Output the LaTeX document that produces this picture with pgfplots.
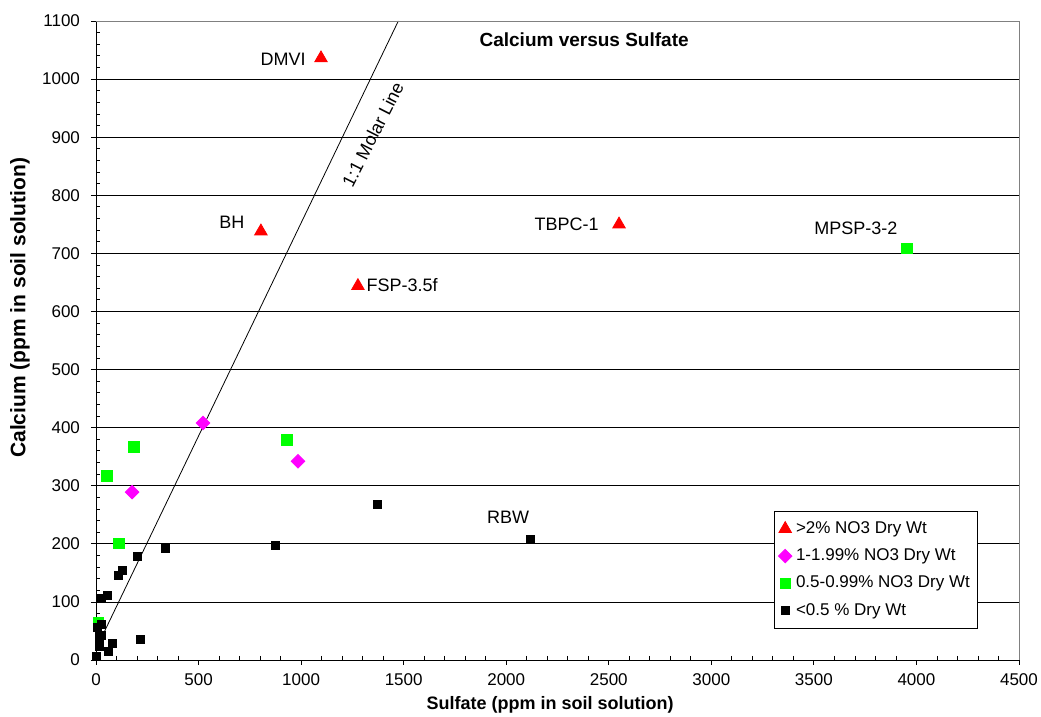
\documentclass[border=0pt]{standalone}
\usepackage{fontspec}
\setmainfont{Liberation Sans}
\usepackage{pgfplots}
\pgfplotsset{compat=1.18}
\definecolor{tri}{HTML}{FF0000}
\definecolor{dia}{HTML}{FF00FF}
\definecolor{grn}{HTML}{00FF00}

\begin{document}
\begin{tikzpicture}
\begin{axis}[
  scale only axis, width=461.5pt, height=319.5pt,
  xmin=0, xmax=4500, ymin=0, ymax=1100,
  xtick distance=500, ytick distance=100,
  minor x tick num=4, minor y tick num=4,
  axis lines*=left, axis line style={black,-},
  tick align=outside, major tick length=2.5pt, minor tick length=-2pt,
  tick style={black, thin},
  ymajorgrids, major grid style={black, thin},
  /pgf/number format/assume math mode=true,
  /pgf/number format/set thousands separator={},
  tick label style={font=\fontsize{8.5}{10}\selectfont},
  xticklabel style={yshift=-1pt},
  yticklabel style={xshift=-2pt},
  xlabel={\textbf{Sulfate (ppm in soil solution)}},
  ylabel={\textbf{Calcium (ppm in soil solution)}},
  xlabel style={at={(axis description cs:0.492,-0.0704)}, anchor=center,
    font=\fontsize{9}{11}\selectfont},
  ylabel style={at={(axis description cs:-0.0823,0.551)}, anchor=center,
    font=\fontsize{10.5}{12}\selectfont},
  legend style={at={(rel axis cs:0.7346,0.2332)}, anchor=north west,
    draw=black, fill=white, font=\fontsize{8.5}{10}\selectfont,
    row sep=2.2pt, inner xsep=2pt, inner ysep=3pt},
  legend cell align=left,
  clip=false,
]
% 1:1 molar line
\addplot[black, thin, forget plot] coordinates {(33,43) (1474,1100)};

% >2% NO3
\addplot[only marks, mark=triangle*, mark size=3.6pt, color=tri] coordinates {
  (1097,1036) (804,738) (1277,644) (2550,750)};
\addlegendentry{>2\% NO3 Dry Wt}

% 1-1.99% NO3
\addplot[only marks, mark=square*, mark size=2.4pt, mark options={rotate=45}, color=dia] coordinates {
  (522,408) (985,342) (176,289)};
\addlegendentry{1-1.99\% NO3 Dry Wt}

% 0.5-0.99% NO3
\addplot[only marks, mark=square*, mark size=2.6pt, color=grn] coordinates {
  (3954,709) (185,367) (931,379) (54,317) (112,201) (11,64)};
\addlegendentry{0.5-0.99\% NO3 Dry Wt}

% <0.5 %
\addplot[only marks, mark=square*, mark size=2pt, color=black] coordinates {
  (1370,267) (2116,207) (340,192) (876,198) (203,179) (127,155) (111,145)
  (54,111) (28,106) (8,56) (28,61) (16,41) (28,42) (15,27) (15,23)
  (78,29) (59,14) (215,36) (0,7)};
\addlegendentry{<0.5 \% Dry Wt}

\draw[gray, thin] (rel axis cs:0,1) -- (rel axis cs:1,1) -- (rel axis cs:1,0);

\node[font=\bfseries\fontsize{9.5}{11}\selectfont] at (axis cs:2380,1067) {Calcium versus Sulfate};
\node[font=\fontsize{9}{10}\selectfont, rotate=63] at (axis cs:1350,905) {1:1 Molar Line};
\node[font=\fontsize{9}{10}\selectfont] at (axis cs:912,1034) {DMVI};
\node[font=\fontsize{9}{10}\selectfont] at (axis cs:663,754) {BH};
\node[font=\fontsize{9}{10}\selectfont] at (axis cs:1492,645) {FSP-3.5f};
\node[font=\fontsize{9}{10}\selectfont] at (axis cs:2294,750) {TBPC-1};
\node[font=\fontsize{9}{10}\selectfont] at (axis cs:3705,743) {MPSP-3-2};
\node[font=\fontsize{9}{10}\selectfont] at (axis cs:2009,246) {RBW};
\end{axis}
\pgfresetboundingbox
\path (-48pt,-28.5pt) rectangle (472.5pt,330pt);
\end{tikzpicture}
\end{document}
